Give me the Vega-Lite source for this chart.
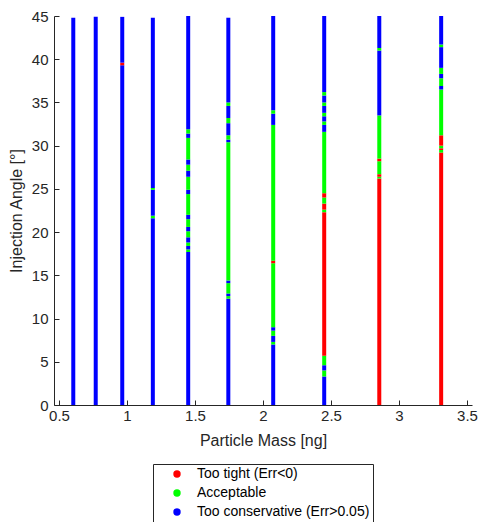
{
  "$schema": "https://vega.github.io/schema/vega-lite/v6.json",
  "autosize": {"type": "none"},
  "width": 418,
  "height": 389,
  "padding": {"left": 54, "top": 16, "right": 12, "bottom": 117},
  "config": {
    "view": {"stroke": null},
    "font": "Liberation Sans",
    "axis": {
      "grid": false,
      "domainColor": "#262626",
      "tickColor": "#262626",
      "labelColor": "#262626",
      "titleColor": "#262626",
      "labelFont": "Liberation Sans",
      "titleFont": "Liberation Sans",
      "labelFontSize": 15,
      "titleFontSize": 16,
      "titleFontWeight": "normal",
      "tickSize": -5
    }
  },
  "datasets": {
    "segs": [
      {"m": 0.605, "a0": 0, "a1": 44.8, "c": "Too conservative (Err>0.05)"},
      {"m": 0.77, "a0": 0, "a1": 44.9, "c": "Too conservative (Err>0.05)"},
      {"m": 0.965, "a0": 0, "a1": 39.3, "c": "Too conservative (Err>0.05)"},
      {"m": 0.965, "a0": 39.3, "a1": 39.6, "c": "Too tight (Err<0)"},
      {"m": 0.965, "a0": 39.6, "a1": 44.9, "c": "Too conservative (Err>0.05)"},
      {"m": 1.19, "a0": 0, "a1": 21.6, "c": "Too conservative (Err>0.05)"},
      {"m": 1.19, "a0": 21.6, "a1": 21.9, "c": "Acceptable"},
      {"m": 1.19, "a0": 21.9, "a1": 24.9, "c": "Too conservative (Err>0.05)"},
      {"m": 1.19, "a0": 24.9, "a1": 25.1, "c": "Acceptable"},
      {"m": 1.19, "a0": 25.1, "a1": 44.8, "c": "Too conservative (Err>0.05)"},
      {"m": 1.45, "a0": 0, "a1": 17.7, "c": "Too conservative (Err>0.05)"},
      {"m": 1.45, "a0": 17.7, "a1": 18.0, "c": "Acceptable"},
      {"m": 1.45, "a0": 18.0, "a1": 18.4, "c": "Too conservative (Err>0.05)"},
      {"m": 1.45, "a0": 18.4, "a1": 18.8, "c": "Acceptable"},
      {"m": 1.45, "a0": 18.8, "a1": 19.4, "c": "Too conservative (Err>0.05)"},
      {"m": 1.45, "a0": 19.4, "a1": 20.1, "c": "Acceptable"},
      {"m": 1.45, "a0": 20.1, "a1": 20.6, "c": "Too conservative (Err>0.05)"},
      {"m": 1.45, "a0": 20.6, "a1": 21.5, "c": "Acceptable"},
      {"m": 1.45, "a0": 21.5, "a1": 22.0, "c": "Too conservative (Err>0.05)"},
      {"m": 1.45, "a0": 22.0, "a1": 24.4, "c": "Acceptable"},
      {"m": 1.45, "a0": 24.4, "a1": 24.9, "c": "Too conservative (Err>0.05)"},
      {"m": 1.45, "a0": 24.9, "a1": 26.4, "c": "Acceptable"},
      {"m": 1.45, "a0": 26.4, "a1": 27.1, "c": "Too conservative (Err>0.05)"},
      {"m": 1.45, "a0": 27.1, "a1": 27.8, "c": "Acceptable"},
      {"m": 1.45, "a0": 27.8, "a1": 28.4, "c": "Too conservative (Err>0.05)"},
      {"m": 1.45, "a0": 28.4, "a1": 30.9, "c": "Acceptable"},
      {"m": 1.45, "a0": 30.9, "a1": 31.4, "c": "Too conservative (Err>0.05)"},
      {"m": 1.45, "a0": 31.4, "a1": 31.9, "c": "Acceptable"},
      {"m": 1.45, "a0": 31.9, "a1": 45, "c": "Too conservative (Err>0.05)"},
      {"m": 1.745, "a0": 0, "a1": 12.3, "c": "Too conservative (Err>0.05)"},
      {"m": 1.745, "a0": 12.3, "a1": 12.6, "c": "Acceptable"},
      {"m": 1.745, "a0": 12.6, "a1": 12.9, "c": "Too conservative (Err>0.05)"},
      {"m": 1.745, "a0": 12.9, "a1": 14.1, "c": "Acceptable"},
      {"m": 1.745, "a0": 14.1, "a1": 14.4, "c": "Too conservative (Err>0.05)"},
      {"m": 1.745, "a0": 14.4, "a1": 30.4, "c": "Acceptable"},
      {"m": 1.745, "a0": 30.4, "a1": 30.7, "c": "Too conservative (Err>0.05)"},
      {"m": 1.745, "a0": 30.7, "a1": 31.2, "c": "Acceptable"},
      {"m": 1.745, "a0": 31.2, "a1": 32.6, "c": "Too conservative (Err>0.05)"},
      {"m": 1.745, "a0": 32.6, "a1": 33.2, "c": "Acceptable"},
      {"m": 1.745, "a0": 33.2, "a1": 34.6, "c": "Too conservative (Err>0.05)"},
      {"m": 1.745, "a0": 34.6, "a1": 35.0, "c": "Acceptable"},
      {"m": 1.745, "a0": 35.0, "a1": 44.8, "c": "Too conservative (Err>0.05)"},
      {"m": 2.075, "a0": 0, "a1": 7.0, "c": "Too conservative (Err>0.05)"},
      {"m": 2.075, "a0": 7.0, "a1": 7.3, "c": "Acceptable"},
      {"m": 2.075, "a0": 7.3, "a1": 8.0, "c": "Too conservative (Err>0.05)"},
      {"m": 2.075, "a0": 8.0, "a1": 8.6, "c": "Acceptable"},
      {"m": 2.075, "a0": 8.6, "a1": 9.0, "c": "Too conservative (Err>0.05)"},
      {"m": 2.075, "a0": 9.0, "a1": 16.4, "c": "Acceptable"},
      {"m": 2.075, "a0": 16.4, "a1": 16.7, "c": "Too tight (Err<0)"},
      {"m": 2.075, "a0": 16.7, "a1": 32.4, "c": "Acceptable"},
      {"m": 2.075, "a0": 32.4, "a1": 33.7, "c": "Too conservative (Err>0.05)"},
      {"m": 2.075, "a0": 33.7, "a1": 34.1, "c": "Acceptable"},
      {"m": 2.075, "a0": 34.1, "a1": 45, "c": "Too conservative (Err>0.05)"},
      {"m": 2.45, "a0": 0, "a1": 3.3, "c": "Too conservative (Err>0.05)"},
      {"m": 2.45, "a0": 3.3, "a1": 4.0, "c": "Acceptable"},
      {"m": 2.45, "a0": 4.0, "a1": 4.6, "c": "Too conservative (Err>0.05)"},
      {"m": 2.45, "a0": 4.6, "a1": 5.7, "c": "Acceptable"},
      {"m": 2.45, "a0": 5.7, "a1": 22.3, "c": "Too tight (Err<0)"},
      {"m": 2.45, "a0": 22.3, "a1": 22.6, "c": "Acceptable"},
      {"m": 2.45, "a0": 22.6, "a1": 23.3, "c": "Too tight (Err<0)"},
      {"m": 2.45, "a0": 23.3, "a1": 24.0, "c": "Acceptable"},
      {"m": 2.45, "a0": 24.0, "a1": 24.5, "c": "Too tight (Err<0)"},
      {"m": 2.45, "a0": 24.5, "a1": 31.6, "c": "Acceptable"},
      {"m": 2.45, "a0": 31.6, "a1": 32.4, "c": "Too conservative (Err>0.05)"},
      {"m": 2.45, "a0": 32.4, "a1": 32.8, "c": "Acceptable"},
      {"m": 2.45, "a0": 32.8, "a1": 33.4, "c": "Too conservative (Err>0.05)"},
      {"m": 2.45, "a0": 33.4, "a1": 33.8, "c": "Acceptable"},
      {"m": 2.45, "a0": 33.8, "a1": 34.6, "c": "Too conservative (Err>0.05)"},
      {"m": 2.45, "a0": 34.6, "a1": 35.0, "c": "Acceptable"},
      {"m": 2.45, "a0": 35.0, "a1": 35.8, "c": "Too conservative (Err>0.05)"},
      {"m": 2.45, "a0": 35.8, "a1": 36.2, "c": "Acceptable"},
      {"m": 2.45, "a0": 36.2, "a1": 45, "c": "Too conservative (Err>0.05)"},
      {"m": 2.855, "a0": 0, "a1": 26.2, "c": "Too tight (Err<0)"},
      {"m": 2.855, "a0": 26.2, "a1": 26.4, "c": "Acceptable"},
      {"m": 2.855, "a0": 26.4, "a1": 26.7, "c": "Too tight (Err<0)"},
      {"m": 2.855, "a0": 26.7, "a1": 28.2, "c": "Acceptable"},
      {"m": 2.855, "a0": 28.2, "a1": 28.5, "c": "Too tight (Err<0)"},
      {"m": 2.855, "a0": 28.5, "a1": 33.5, "c": "Acceptable"},
      {"m": 2.855, "a0": 33.5, "a1": 41.0, "c": "Too conservative (Err>0.05)"},
      {"m": 2.855, "a0": 41.0, "a1": 41.3, "c": "Acceptable"},
      {"m": 2.855, "a0": 41.3, "a1": 45, "c": "Too conservative (Err>0.05)"},
      {"m": 3.31, "a0": 0, "a1": 29.2, "c": "Too tight (Err<0)"},
      {"m": 3.31, "a0": 29.2, "a1": 29.5, "c": "Acceptable"},
      {"m": 3.31, "a0": 29.5, "a1": 29.7, "c": "Too tight (Err<0)"},
      {"m": 3.31, "a0": 29.7, "a1": 30.0, "c": "Acceptable"},
      {"m": 3.31, "a0": 30.0, "a1": 31.2, "c": "Too tight (Err<0)"},
      {"m": 3.31, "a0": 31.2, "a1": 36.5, "c": "Acceptable"},
      {"m": 3.31, "a0": 36.5, "a1": 36.9, "c": "Too conservative (Err>0.05)"},
      {"m": 3.31, "a0": 36.9, "a1": 37.8, "c": "Acceptable"},
      {"m": 3.31, "a0": 37.8, "a1": 38.3, "c": "Too conservative (Err>0.05)"},
      {"m": 3.31, "a0": 38.3, "a1": 39.0, "c": "Acceptable"},
      {"m": 3.31, "a0": 39.0, "a1": 41.4, "c": "Too conservative (Err>0.05)"},
      {"m": 3.31, "a0": 41.4, "a1": 41.7, "c": "Acceptable"},
      {"m": 3.31, "a0": 41.7, "a1": 45, "c": "Too conservative (Err>0.05)"}
    ]
  },
  "data": {"name": "segs"},
  "mark": {"type": "bar", "size": 4, "orient": "vertical"},
  "encoding": {
    "x": {
      "field": "m",
      "type": "quantitative",
      "scale": {"domain": [0.5, 3.5], "nice": false, "zero": false},
      "axis": {
        "title": "Particle Mass [ng]",
        "values": [0.5, 1, 1.5, 2, 2.5, 3, 3.5],
        "format": "~g",
        "labelPadding": 8,
        "titlePadding": 9
      }
    },
    "y": {
      "field": "a0",
      "type": "quantitative",
      "scale": {"domain": [0, 45], "nice": false},
      "axis": {
        "title": "Injection Angle [°]",
        "values": [0, 5, 10, 15, 20, 25, 30, 35, 40, 45],
        "labelPadding": 11,
        "titlePadding": 7
      }
    },
    "y2": {"field": "a1"},
    "color": {
      "field": "c",
      "type": "nominal",
      "scale": {
        "domain": ["Too tight (Err<0)", "Acceptable", "Too conservative (Err>0.05)"],
        "range": ["#FF0000", "#00FF00", "#0000FF"]
      },
      "legend": {
        "title": null,
        "orient": "none",
        "legendX": 99,
        "legendY": 448,
        "direction": "vertical",
        "symbolType": "circle",
        "symbolSize": 55,
        "symbolOffset": 14,
        "labelOffset": 13,
        "labelFontSize": 14,
        "labelFont": "Liberation Sans",
        "labelColor": "#000000",
        "labelLimit": 400,
        "rowPadding": 5,
        "padding": 3,
        "strokeColor": "#262626",
        "fillColor": "#ffffff"
      }
    }
  }
}
